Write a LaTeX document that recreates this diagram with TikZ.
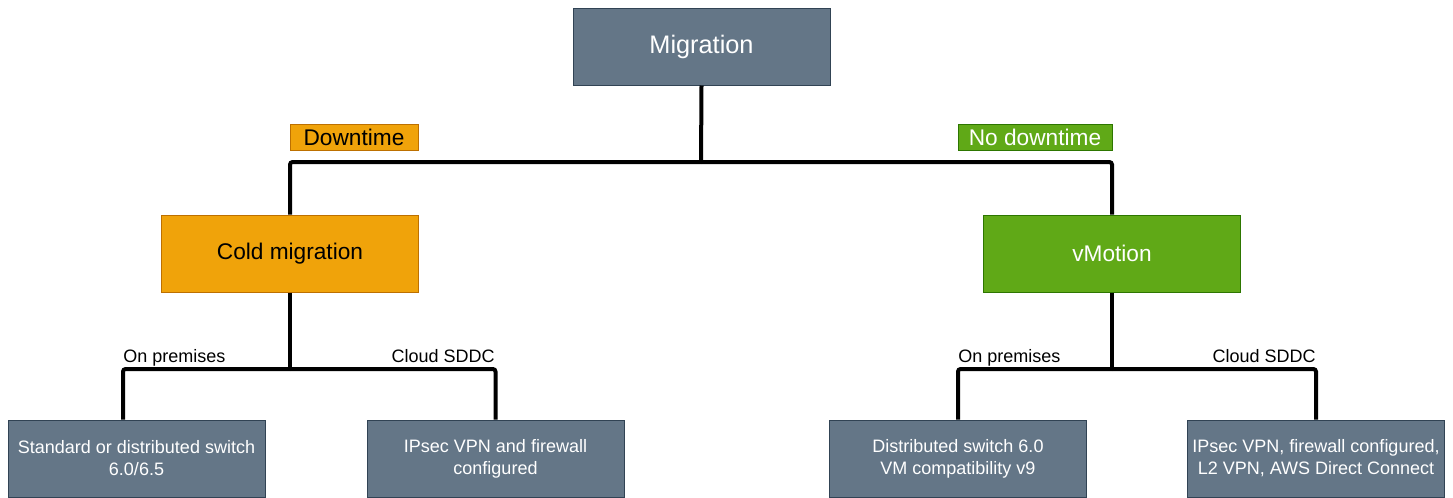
\documentclass[tikz,border=0pt]{standalone}
\usepackage{fontspec}
\setmainfont{Liberation Sans}
\usetikzlibrary{positioning,calc}
\definecolor{slatefill}{HTML}{647687}
\definecolor{slatedraw}{HTML}{314354}
\definecolor{orfill}{HTML}{F0A30A}
\definecolor{ordraw}{HTML}{BD7000}
\definecolor{grfill}{HTML}{60A917}
\definecolor{grdraw}{HTML}{2D7600}

\begin{document}
\begin{tikzpicture}[x=0.75pt, y=-0.75pt,
  boxbase/.style={rectangle, line width=0.75pt, minimum width=192.75pt, minimum height=57.75pt, inner sep=0pt, align=center},
  slatebox/.style={boxbase, draw=slatedraw, fill=slatefill, text=white},
  coldbox/.style={boxbase, draw=ordraw, fill=orfill, text=black, font=\fontsize{17}{20}\selectfont},
  warmbox/.style={boxbase, draw=grdraw, fill=grfill, text=white, font=\fontsize{17}{20}\selectfont},
  tagbox/.style={rectangle, line width=0.75pt, minimum height=19.5pt, inner sep=0pt, font=\fontsize{17}{20}\selectfont},
  link/.style={line width=3pt, black, rounded corners=2pt},
  edgelabel/.style={font=\fontsize{13.5}{16}\selectfont, inner sep=0pt},
]
\useasboundingbox (0,0) rectangle (1453,497);

\node[slatebox, font=\fontsize{19}{22}\selectfont] (mig) at (701.5,46.5) {Migration};
\node[coldbox] (cold) at (290,253.5) {Cold migration};
\node[warmbox] (vmo) at (1112,253.5) {vMotion};

\node[tagbox, draw=ordraw, fill=orfill, text=black, minimum width=96pt] (down) at (354,137) {Downtime};
\node[tagbox, draw=grdraw, fill=grfill, text=white, minimum width=115.5pt] (nodown) at (1035,137) {No downtime};

\foreach \nm/\cx/\txt in {%
  sw1/136.5/{Standard or distributed switch\\6.0/6.5},
  sw2/495.5/{IPsec VPN and firewall\\configured},
  sw3/958/{Distributed switch 6.0\\VM compatibility v9},
  sw4/1316/{IPsec VPN, firewall configured,\\L2 VPN, AWS Direct Connect}%
} {
  \node[slatebox, font=\fontsize{13.5}{16.5}\selectfont] (\nm) at (\cx,458.5) {\txt};
}

\coordinate (jtop) at (701,162);
\coordinate (jcold) at (290,369);
\coordinate (jvm) at (1112,369);

\draw[link] (mig.south) -- (jtop);
\draw[link] (jtop) -| (cold.north);
\draw[link] (jtop) -| (vmo.north);
\draw[link] (cold.south) -- (jcold);
\draw[link] (jcold) -| ([xshift=-10.125pt]sw1.north);
\draw[link] (jcold) -| (sw2.north);
\draw[link] (vmo.south) -- (jvm);
\draw[link] (jvm) -| (sw3.north);
\draw[link] (jvm) -| (sw4.north);

\node[edgelabel, anchor=base west] (premL) at (123,362) {On premises};
\node[edgelabel, anchor=base east] (cloudL) at (495,362) {Cloud SDDC};
\node[edgelabel, anchor=base west] (premR) at (958,362) {On premises};
\node[edgelabel, anchor=base east] (cloudR) at (1316,362) {Cloud SDDC};
\end{tikzpicture}
\end{document}
